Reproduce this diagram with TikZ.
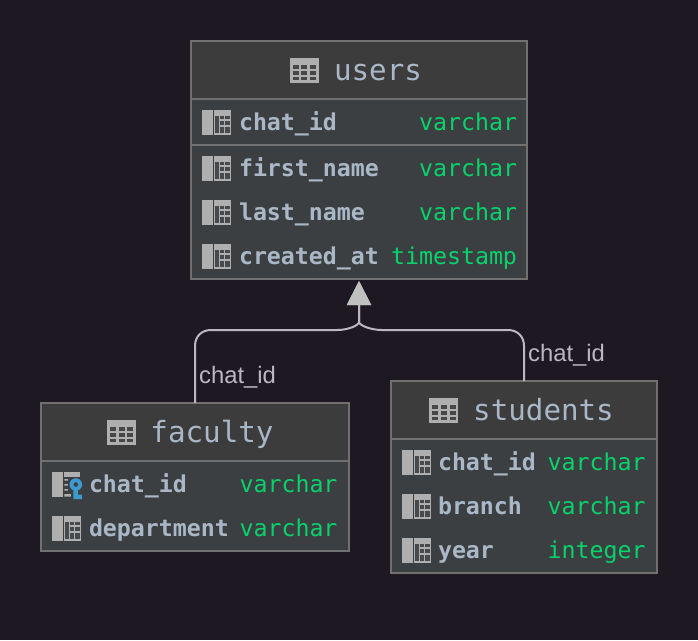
\documentclass[tikz,border=0pt]{standalone}
\usepackage{fontspec}
\setmainfont{Liberation Sans}
\newfontfamily\dbfont{DejaVu Sans Mono}
\usepackage{tikz}
\usetikzlibrary{arrows.meta}
\definecolor{pagebg}{HTML}{1E1823}
\definecolor{headbg}{HTML}{3C3C3C}
\definecolor{bodybg}{HTML}{3C3F41}
\definecolor{framecol}{HTML}{707070}
\definecolor{iconcol}{HTML}{AFAFAF}
\definecolor{namecol}{HTML}{A9B7C6}
\definecolor{typecol}{HTML}{08D26C}
\definecolor{linkcol}{HTML}{BDB8BF}
\definecolor{tipcol}{HTML}{C0C0C0}
\definecolor{keycol}{HTML}{3D9BD0}
\tikzstyle{tablebox} = [rectangle, draw=framecol, line width=1.5pt, fill=bodybg, outer sep=0pt, inner sep=0pt]
\tikzstyle{headbox} = [tablebox, fill=headbg, anchor=north]
\tikzstyle{keybox} = [tablebox, anchor=north]
\tikzstyle{title} = [inner sep=0pt, text height=21pt, text depth=0pt, text=namecol, font=\dbfont\fontsize{29.2}{32}\selectfont]
\tikzstyle{colname} = [inner sep=0pt, align=left, text height=21pt, text depth=5pt, text=namecol, font=\dbfont\bfseries\fontsize{23.25}{28}\selectfont]
\tikzstyle{coltype} = [inner sep=0pt, align=right, text height=21pt, text depth=5pt, text=typecol, font=\dbfont\fontsize{23.25}{28}\selectfont]
\tikzstyle{linklabel} = [inner sep=0pt, text=linkcol!90!namecol, font=\fontsize{23.8}{28}\selectfont]
\tikzstyle{arrow} = [line width=2pt, draw=linkcol, -{Triangle[width=24pt,length=24pt,color=tipcol,fill=tipcol]}, shorten >=2pt]
\tikzset{
  tableicon/.pic={
    \fill [iconcol] (-14.5,-12.5) rectangle (14.5,12.5);
    \foreach \cx in {-11.5,-3,5.8}
      \foreach \cy/\ch in {-5.2/4.4,0.8/4,6.5/3.5}
        \fill [headbg!90!iconcol] (\cx,\cy) rectangle ++(6,\ch);
  },
  columnicon/.pic={
    \fill [iconcol] (-14.5,-12.5) rectangle (-3.5,12.5);
    \fill [iconcol] (-2.5,-12.5) rectangle (14,12.5);
    \fill [bodybg!90!iconcol] (-1.5,-6.5) rectangle (2,11);
    \foreach \cy/\ch in {-6.5/3.6,-1/3.6,4.5/6.5}
      \foreach \cx in {3.3,8.5}
        \fill [bodybg!90!iconcol] (\cx,\cy) rectangle ++(4.2,\ch);
  },
  keyicon/.pic={
    \fill [iconcol] (-14.5,-12.5) rectangle (-3.5,12.5);
    \fill [iconcol] (-2.5,-12.5) rectangle (13,-7);
    \fill [iconcol] (-2.5,-5) rectangle (1,-3.5) (-2.5,0) rectangle (1,1.5) (-2.5,5) rectangle (1,6.5) (-2.5,10) rectangle (4,12.5);
    \fill [keycol] (9,0.5) circle (6.3);
    \fill [bodybg] (9,0.5) circle (2.3);
    \fill [keycol] (6.5,5) rectangle (11,15) (6.5,10.5) rectangle (15,15);
  }
}

\begin{document}
\begin{tikzpicture}[x=1pt, y=-1pt, node distance=44pt]
\useasboundingbox [fill=pagebg] (0,0) rectangle (698,640);

% ---------------------------------------------
% users table
% ---------------------------------------------
\node (users) [tablebox, minimum width=336pt, minimum height=238pt] at (359,160) {};
\node (users_head) [headbox, minimum width=336pt, minimum height=58pt] at (users.north) {};
\node (users_key) [keybox, minimum width=336pt, minimum height=46pt] at (users_head.south) {};
\node (users_title) [title, xshift=19pt] at (users_head) {users};
\pic at ([xshift=-29.5pt]users_title.west) {tableicon};

\node (u_chat) [colname, text width=154pt] at (316,122) {chat\_id};
\node (u_first) [colname, text width=154pt, below of = u_chat, yshift=-2pt] {first\_name};
\node (u_last) [colname, text width=154pt, below of = u_first] {last\_name};
\node (u_created) [colname, text width=154pt, below of = u_last] {created\_at};
\node (u_chat_t) [coltype, text width=140pt] at (447,122) {varchar};
\node (u_first_t) [coltype, text width=140pt, below of = u_chat_t, yshift=-2pt] {varchar};
\node (u_last_t) [coltype, text width=140pt, below of = u_first_t] {varchar};
\node (u_created_t) [coltype, text width=140pt, below of = u_last_t] {timestamp};
\foreach \row in {u_chat,u_first,u_last,u_created}
  \pic at ([xshift=-22pt]\row.west) {columnicon};

% ---------------------------------------------
% faculty table
% ---------------------------------------------
\node (faculty) [tablebox, minimum width=308pt, minimum height=148pt] at (195,477) {};
\node (faculty_head) [headbox, minimum width=308pt, minimum height=58pt] at (faculty.north) {};
\node (faculty_title) [title, xshift=17pt] at (faculty_head) {faculty};
\pic at ([xshift=-28.7pt]faculty_title.west) {tableicon};

\node (f_chat) [colname, text width=140pt] at (159,484) {chat\_id};
\node (f_dept) [colname, text width=140pt, below of = f_chat] {department};
\node (f_chat_t) [coltype, text width=98pt] at (288.5,484) {varchar};
\node (f_dept_t) [coltype, text width=98pt, below of = f_chat_t] {varchar};
\pic at ([xshift=-22pt]f_chat.west) {keyicon};
\pic at ([xshift=-22pt]f_dept.west) {columnicon};

% ---------------------------------------------
% students table
% ---------------------------------------------
\node (students) [tablebox, minimum width=266pt, minimum height=192pt] at (524,477) {};
\node (students_head) [headbox, minimum width=266pt, minimum height=58pt] at (students.north) {};
\node (students_title) [title, xshift=19.5pt] at (students_head) {students};
\pic at ([xshift=-29pt]students_title.west) {tableicon};

\node (s_chat) [colname, text width=98pt] at (487,462) {chat\_id};
\node (s_branch) [colname, text width=98pt, below of = s_chat] {branch};
\node (s_year) [colname, text width=98pt, below of = s_branch] {year};
\node (s_chat_t) [coltype, text width=98pt] at (596.5,462) {varchar};
\node (s_branch_t) [coltype, text width=98pt, below of = s_chat_t] {varchar};
\node (s_year_t) [coltype, text width=98pt, below of = s_branch_t] {integer};
\foreach \row in {s_chat,s_branch,s_year}
  \pic at ([xshift=-21pt]\row.west) {columnicon};

% ---------------------------------------------
% All arrows
% ---------------------------------------------
\draw [arrow] (faculty.north) -- ++(0,-57) .. controls +(0,-10) and +(-9,0) .. ++(16,-16) -- ++(126,0) .. controls +(12,0) and +(0,3) .. ++(22,-8) -- (users.south);
\draw [arrow] (students.north) -- ++(0,-35) .. controls +(0,-10) and +(9,0) .. ++(-16,-16) -- ++(-126,0) .. controls +(-12,0) and +(0,3) .. ++(-23,-8) -- (users.south);
\node (label_left) [linklabel, anchor=west] at ([xshift=4pt,yshift=26pt]faculty.north) {chat\_id};
\node (label_right) [linklabel, anchor=west] at ([xshift=4pt,yshift=26pt]students.north) {chat\_id};
\end{tikzpicture}
\end{document}
